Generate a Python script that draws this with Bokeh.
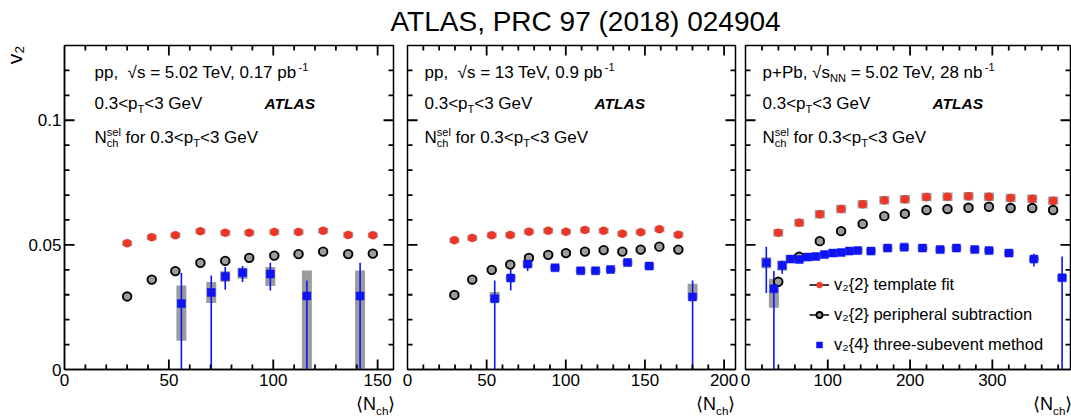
import math
from bokeh.plotting import figure
from bokeh.models import Range1d, LinearAxis, SingleIntervalTicker, Label, Legend, LegendItem, Title
from bokeh.layouts import row, column
from bokeh.embed import file_html
from bokeh.resources import INLINE

# ---------------- data ----------------
# pp, sqrt(s) = 5.02 TeV
pp5_tf_n = [30.0, 41.8, 53.1, 65.1, 77.0, 88.5, 100.5, 112.1, 123.9, 135.9, 147.7]
pp5_tf_v = [0.0507, 0.0531, 0.0539, 0.0555, 0.0549, 0.0549, 0.0552, 0.0552, 0.0557, 0.0540, 0.0539]
pp5_tf_stat = [0.0004, 0.0004, 0.0004, 0.0004, 0.0004, 0.0004, 0.0004, 0.0004, 0.0004, 0.0005, 0.0006]
pp5_tf_sys = [0.0011, 0.0011, 0.0011, 0.0011, 0.0011, 0.0011, 0.0011, 0.0011, 0.0011, 0.0011, 0.0011]
pp5_ps_n = [30.0, 41.8, 53.1, 65.1, 77.0, 88.5, 100.5, 112.1, 123.9, 135.9, 147.7]
pp5_ps_v = [0.0293, 0.0361, 0.0395, 0.0428, 0.0436, 0.0448, 0.0457, 0.0463, 0.0473, 0.0463, 0.0465]
pp5_ps_stat = [0.0003, 0.0003, 0.0003, 0.0003, 0.0003, 0.0003, 0.0003, 0.0003, 0.0003, 0.0004, 0.0004]
pp5_ps_sys = [0.0011, 0.0011, 0.0011, 0.0011, 0.0011, 0.0011, 0.0011, 0.0011, 0.0011, 0.0011, 0.0011]
pp5_3s_n = [56.0, 70.3, 77.0, 85.3, 98.6, 116.1, 141.6]
pp5_3s_v = [0.0265, 0.0309, 0.0373, 0.0388, 0.0383, 0.0295, 0.0295]
pp5_3s_stat_hi = [0.0122, 0.0068, 0.0038, 0.0027, 0.0045, 0.0062, 0.0133]
pp5_3s_stat_lo = [0.0300, 0.0350, 0.0053, 0.0037, 0.0066, 0.0350, 0.0350]
pp5_3s_sys_hi = [0.0072, 0.0042, 0.0021, 0.0020, 0.0028, 0.0102, 0.0102]
pp5_3s_sys_lo = [0.0150, 0.0042, 0.0021, 0.0024, 0.0048, 0.0300, 0.0300]

# pp, sqrt(s) = 13 TeV
pp13_tf_n = [29.6, 40.9, 53.2, 64.9, 76.7, 88.9, 100.1, 112.1, 123.9, 135.7, 147.3, 159.1, 171.1]
pp13_tf_v = [0.0519, 0.0528, 0.0539, 0.0540, 0.0553, 0.0557, 0.0553, 0.0560, 0.0557, 0.0545, 0.0551, 0.0563, 0.0541]
pp13_tf_stat = [0.0003, 0.0003, 0.0003, 0.0003, 0.0003, 0.0003, 0.0003, 0.0003, 0.0003, 0.0004, 0.0004, 0.0005, 0.0006]
pp13_tf_sys = [0.0011, 0.0011, 0.0011, 0.0011, 0.0011, 0.0011, 0.0011, 0.0011, 0.0011, 0.0011, 0.0011, 0.0011, 0.0011]
pp13_ps_n = [29.6, 40.9, 53.2, 64.9, 76.7, 88.9, 100.1, 112.1, 123.9, 135.7, 147.3, 159.1, 171.1]
pp13_ps_v = [0.0299, 0.0361, 0.0400, 0.0421, 0.0448, 0.0460, 0.0467, 0.0473, 0.0479, 0.0473, 0.0481, 0.0493, 0.0481]
pp13_ps_stat = [0.0003, 0.0003, 0.0003, 0.0003, 0.0003, 0.0003, 0.0003, 0.0003, 0.0003, 0.0003, 0.0003, 0.0004, 0.0004]
pp13_ps_sys = [0.0011, 0.0011, 0.0011, 0.0011, 0.0011, 0.0011, 0.0011, 0.0011, 0.0011, 0.0011, 0.0011, 0.0011, 0.0011]
pp13_3s_n = [55.1, 65.2, 75.9, 93.2, 109.4, 118.8, 128.3, 139.0, 152.7, 180.1]
pp13_3s_v = [0.0284, 0.0367, 0.0423, 0.0408, 0.0396, 0.0396, 0.0401, 0.0429, 0.0415, 0.0291]
pp13_3s_stat_hi = [0.0073, 0.0033, 0.0014, 0.0008, 0.0008, 0.0008, 0.0008, 0.0009, 0.0012, 0.0066]
pp13_3s_stat_lo = [0.0350, 0.0050, 0.0028, 0.0008, 0.0008, 0.0008, 0.0008, 0.0009, 0.0012, 0.0350]
pp13_3s_sys_hi = [0.0027, 0.0011, 0.0012, 0.0010, 0.0009, 0.0009, 0.0009, 0.0010, 0.0010, 0.0053]
pp13_3s_sys_lo = [0.0013, 0.0011, 0.0012, 0.0010, 0.0009, 0.0009, 0.0009, 0.0010, 0.0010, 0.0010]

# p+Pb, sqrt(sNN) = 5.02 TeV
ppb_tf_n = [39.8, 65.3, 90.3, 116.2, 142.4, 168.7, 193.7, 220.0, 245.5, 271.0, 295.9, 322.2, 348.5, 373.9]
ppb_tf_v = [0.0549, 0.0589, 0.0623, 0.0644, 0.0663, 0.0679, 0.0683, 0.0692, 0.0693, 0.0695, 0.0693, 0.0688, 0.0685, 0.0677]
ppb_tf_stat = [0.0003, 0.0003, 0.0003, 0.0003, 0.0003, 0.0003, 0.0003, 0.0003, 0.0003, 0.0003, 0.0003, 0.0004, 0.0004, 0.0005]
ppb_tf_sys = [0.0015, 0.0016, 0.0017, 0.0017, 0.0017, 0.0017, 0.0017, 0.0017, 0.0017, 0.0017, 0.0017, 0.0017, 0.0017, 0.0017]
ppb_ps_n = [39.8, 65.3, 90.3, 116.2, 142.4, 168.7, 193.7, 220.0, 245.5, 271.0, 295.9, 322.2, 348.5, 373.9]
ppb_ps_v = [0.0352, 0.0453, 0.0515, 0.0555, 0.0584, 0.0615, 0.0625, 0.0640, 0.0644, 0.0649, 0.0653, 0.0648, 0.0648, 0.0640]
ppb_ps_stat = [0.0003, 0.0003, 0.0003, 0.0003, 0.0003, 0.0003, 0.0003, 0.0003, 0.0003, 0.0003, 0.0003, 0.0003, 0.0004, 0.0004]
ppb_ps_sys = [0.0012, 0.0012, 0.0012, 0.0012, 0.0012, 0.0012, 0.0012, 0.0012, 0.0012, 0.0012, 0.0012, 0.0012, 0.0012, 0.0012]
ppb_3s_n = [25.3, 34.5, 44.6, 54.7, 65.3, 75.4, 85.4, 95.9, 106.1, 116.2, 126.3, 136.4,
            152.5, 172.7, 192.9, 215.2, 236.6, 256.4, 278.6, 296.0, 320.2, 350.5, 384.8]
ppb_3s_v = [0.0428, 0.0324, 0.0417, 0.0443, 0.0441, 0.0451, 0.0453, 0.0461, 0.0467, 0.0469, 0.0475, 0.0477,
            0.0475, 0.0487, 0.0491, 0.0487, 0.0481, 0.0487, 0.0481, 0.0477, 0.0467, 0.0443, 0.0368]
ppb_3s_stat_hi = [0.0065, 0.0071, 0.0020, 0.0008, 0.0006, 0.0005, 0.0005, 0.0005, 0.0005, 0.0005, 0.0005, 0.0005,
                  0.0005, 0.0005, 0.0005, 0.0005, 0.0005, 0.0006, 0.0006, 0.0007, 0.0008, 0.0021, 0.0085]
ppb_3s_stat_lo = [0.0121, 0.0400, 0.0033, 0.0008, 0.0006, 0.0005, 0.0005, 0.0005, 0.0005, 0.0005, 0.0005, 0.0005,
                  0.0005, 0.0005, 0.0005, 0.0005, 0.0005, 0.0006, 0.0006, 0.0007, 0.0008, 0.0030, 0.0400]
ppb_3s_sys_hi = [0.0022, 0.0040, 0.0020, 0.0015, 0.0011, 0.0010, 0.0010, 0.0010, 0.0010, 0.0010, 0.0010, 0.0010,
                 0.0010, 0.0010, 0.0010, 0.0010, 0.0010, 0.0010, 0.0010, 0.0010, 0.0010, 0.0010, 0.0013]
ppb_3s_sys_lo = [0.0022, 0.0076, 0.0020, 0.0015, 0.0011, 0.0010, 0.0010, 0.0010, 0.0010, 0.0010, 0.0010, 0.0010,
                 0.0010, 0.0010, 0.0010, 0.0010, 0.0010, 0.0010, 0.0010, 0.0010, 0.0010, 0.0010, 0.0013]

title_text = "ATLAS, PRC 97 (2018) 024904"
legend_labels = ["v\u2082{2} template fit", "v\u2082{2} peripheral subtraction", "v\u2082{4} three-subevent method"]

# ---------------- style ----------------
FONT = "Liberation Sans"
RED = "#ee3526"
BLUE = "#0f14f5"
GREY = "#9c9c9c"
YMAX = 0.13
FH = 324
YT_MAJOR, YT_MINOR = 0.05, 0.01
BASE_SHIFT = 0.32   # label anchor sits this many em above the glyph baseline

W = {' ': 278, ',': 278, '.': 278, '-': 333, '+': 584, '<': 584, '=': 584, '\u221a': 549,
     '\u27e8': 390, '\u27e9': 390, 'G': 778, 'N': 722, 'P': 667, 'T': 611, 'V': 667,
     'b': 556, 'c': 500, 'e': 556, 'f': 278, 'h': 556, 'l': 222, 'n': 556, 'o': 556,
     'p': 556, 'r': 333, 's': 500}


def tw(s, fs):
    return sum(W.get(c, 556) for c in s) * fs / 1000.0


def steps(start, stop, step):
    out, k = [], 0
    while start + k * step <= stop + 1e-12:
        out.append(start + k * step)
        k += 1
    return out


def panel(xmax, fw, bl, br, interval, show_y):
    p = figure(frame_width=fw, frame_height=FH, x_range=Range1d(0, xmax), y_range=Range1d(0, YMAX),
               x_axis_type=None, y_axis_type=None, output_backend="svg", toolbar_location=None,
               min_border_left=bl, min_border_right=br, min_border_top=5, min_border_bottom=24, title=None)
    p.outline_line_color = "black"
    p.outline_line_width = 1.5
    p.background_fill_color = "white"
    p.border_fill_color = "white"
    places = ["below"] + (["left"] if show_y else [])
    for loc in places:
        horiz = loc == "below"
        ax = LinearAxis(ticker=SingleIntervalTicker(interval=interval if horiz else YT_MAJOR, num_minor_ticks=5))
        ax.axis_line_color = "black"
        ax.axis_line_width = 1.5
        ax.major_tick_in = 0
        ax.major_tick_out = 0
        ax.minor_tick_in = 0
        ax.minor_tick_out = 0
        ax.major_label_text_font = FONT
        ax.major_label_text_font_size = "17px"
        ax.major_label_text_color = "black"
        ax.major_label_standoff = 4 if horiz else 3
        p.add_layout(ax, loc)
    return p


def tick_segments(xmax, fw, interval):
    # inward tick marks on all four sides, as line segments reaching from the frame edge inward
    dy = YMAX / FH
    dx = xmax / fw
    x0, y0, x1, y1 = [], [], [], []
    xmaj = steps(0.0, xmax, interval)
    for xv in steps(interval / 5.0, xmax - 1e-6, interval / 5.0):
        ln = 10 if any(abs(xv - m) < 1e-9 for m in xmaj) else 5
        x0 += [xv, xv]
        x1 += [xv, xv]
        y0 += [0.0, YMAX]
        y1 += [ln * dy, YMAX - ln * dy]
    ymaj = steps(0.0, YMAX, YT_MAJOR)
    for yv in steps(YT_MINOR, YMAX - 1e-6, YT_MINOR):
        ln = 10 if any(abs(yv - m) < 1e-9 for m in ymaj) else 5
        x0 += [0.0, xmax]
        x1 += [ln * dx, xmax - ln * dx]
        y0 += [yv, yv]
        y1 += [yv, yv]
    return x0, y0, x1, y1


def put(p, to_data, xpx, base_px, text, size, style="normal"):
    x, y = to_data(xpx, base_px - BASE_SHIFT * size)
    p.add_layout(Label(x=x, y=y, text=text, text_font=FONT, text_font_size="%.1fpx" % size,
                       text_font_style=style, text_color="black", text_baseline="alphabetic",
                       text_align="left"))


def rich(p, to_data, xpx, ypx, parts, fs, right=False):
    def adv(txt, kind):
        if kind == "n":
            return tw(txt, fs)
        if kind == "ss":
            return max(tw(txt[0], 0.65 * fs), tw(txt[1], 0.65 * fs))
        return tw(txt, 0.65 * fs)
    if right:
        xpx -= sum(adv(t, k) for t, k in parts)
    x = xpx
    for txt, kind in parts:
        if kind == "ss":
            put(p, to_data, x, ypx - 0.42 * fs, txt[0], 0.65 * fs)
            put(p, to_data, x, ypx + 0.25 * fs, txt[1], 0.65 * fs)
        else:
            size = fs if kind == "n" else 0.65 * fs
            dy = {"n": 0.0, "sup": -0.42 * fs, "sub": 0.25 * fs}[kind]
            lead = len(txt) - len(txt.lstrip(" "))
            xx = x + tw(" " * lead, size) - (1.5 if kind == "sup" else 0.0)
            put(p, to_data, xx, ypx + dy, txt.lstrip(" "), size)
        x += adv(txt, kind)


def draw_data(p, xmax, fw, interval, tf_n, tf_v, tf_st, tf_sys, ps_n, ps_v, ps_st, ps_sys,
              s_n, s_v, st_hi, st_lo, sy_hi, sy_lo):
    # systematic boxes
    p.rect(x=tf_n, y=tf_v, width=10, height=[2 * s for s in tf_sys], width_units="screen",
           fill_color=GREY, line_color=None)
    p.rect(x=ps_n, y=ps_v, width=10, height=[2 * s for s in ps_sys], width_units="screen",
           fill_color=GREY, line_color=None)
    p.rect(x=s_n, y=[v + (h - l) / 2 for v, h, l in zip(s_v, sy_hi, sy_lo)], width=10,
           height=[h + l for h, l in zip(sy_hi, sy_lo)], width_units="screen",
           fill_color=GREY, line_color=None)
    # statistical error bars
    e1 = p.segment(x0=tf_n, y0=[v - e for v, e in zip(tf_v, tf_st)], x1=tf_n,
                   y1=[v + e for v, e in zip(tf_v, tf_st)], line_color="black", line_width=1.5)
    e2 = p.segment(x0=ps_n, y0=[v - e for v, e in zip(ps_v, ps_st)], x1=ps_n,
                   y1=[v + e for v, e in zip(ps_v, ps_st)], line_color="black", line_width=1.5)
    # blue error bars and the frame tick marks share one segment renderer (per-item colour/width)
    tx0, ty0, tx1, ty1 = tick_segments(xmax, fw, interval)
    n_err = len(s_n)
    n_tick = len(tx0)
    e3 = p.segment(x0=list(s_n) + tx0,
                   y0=[v - l for v, l in zip(s_v, st_lo)] + ty0,
                   x1=list(s_n) + tx1,
                   y1=[v + h for v, h in zip(s_v, st_hi)] + ty1,
                   line_color=[BLUE] * n_err + ["black"] * n_tick,
                   line_width=[1.6] * n_err + [1.8] * n_tick)
    # markers
    m1 = p.scatter(x=tf_n, y=tf_v, marker="circle", size=8, fill_color=RED, line_color=RED, line_width=0.5)
    m2 = p.scatter(x=ps_n, y=ps_v, marker="circle", size=8.5, fill_color=GREY, line_color="black", line_width=1.8)
    m3 = p.scatter(x=s_n, y=s_v, marker="square", size=8, fill_color=BLUE, line_color=BLUE, line_width=0.5)
    return [(e1, m1), (e2, m2), (m3,)]


X1, FW1 = 157.6, 329
X2, FW2 = 207.2, 328
X3, FW3 = 395.0, 325

p1 = panel(X1, FW1, 63, 7, 50, True)
p2 = panel(X2, FW2, 7, 5, 50, False)
p3 = panel(X3, FW3, 5, 2, 100, False)

draw_data(p1, X1, FW1, 50, pp5_tf_n, pp5_tf_v, pp5_tf_stat, pp5_tf_sys, pp5_ps_n, pp5_ps_v, pp5_ps_stat,
          pp5_ps_sys, pp5_3s_n, pp5_3s_v, pp5_3s_stat_hi, pp5_3s_stat_lo, pp5_3s_sys_hi, pp5_3s_sys_lo)
draw_data(p2, X2, FW2, 50, pp13_tf_n, pp13_tf_v, pp13_tf_stat, pp13_tf_sys, pp13_ps_n, pp13_ps_v, pp13_ps_stat,
          pp13_ps_sys, pp13_3s_n, pp13_3s_v, pp13_3s_stat_hi, pp13_3s_stat_lo, pp13_3s_sys_hi, pp13_3s_sys_lo)
rs3 = draw_data(p3, X3, FW3, 100, ppb_tf_n, ppb_tf_v, ppb_tf_stat, ppb_tf_sys, ppb_ps_n, ppb_ps_v, ppb_ps_stat,
                ppb_ps_sys, ppb_3s_n, ppb_3s_v, ppb_3s_stat_hi, ppb_3s_stat_lo, ppb_3s_sys_hi, ppb_3s_sys_lo)

# legend line for the blue entry: an empty-data blue segment renderer (glyph only used by the legend)
leg_blue = p3.segment(x0=[], y0=[], x1=[], y1=[], line_color=BLUE, line_width=1.6)

FS = 17
line1 = [
    [("pp,  ", "n"), ("\u221a", "n"), ("s = 5.02 TeV, 0.17 pb", "n"), ("-1", "sup")],
    [("pp,  ", "n"), ("\u221a", "n"), ("s = 13 TeV, 0.9 pb", "n"), ("-1", "sup")],
    [("p+Pb, ", "n"), ("\u221a", "n"), ("s", "n"), ("NN", "sub"), (" = 5.02 TeV, 28 nb", "n"), ("-1", "sup")],
]
line2 = [("0.3<p", "n"), ("T", "sub"), ("<3 GeV", "n")]
line3 = [("N", "n"), (("sel", "ch"), "ss"), (" for 0.3<p", "n"), ("T", "sub"), ("<3 GeV", "n")]
nch = [("\u27e8N", "n"), ("ch", "sub"), ("\u27e9", "n")]

for p, xm, fw, x0, l1 in ((p1, X1, FW1, 30, line1[0]), (p2, X2, FW2, 17, line1[1]), (p3, X3, FW3, 17, line1[2])):
    td = (lambda xm_, fw_: (lambda xp, yp: (xm_ * xp / fw_, YMAX * (1 - yp / FH))))(xm, fw)
    rich(p, td, x0, 32, l1, FS)
    rich(p, td, x0, 63, line2, FS)
    put(p, td, x0 + 170, 63, "ATLAS", 15.5, style="bold italic")
    rich(p, td, x0, 97, line3, FS)

# y-axis title (as a left-side title at the top end of the axis)
p1.add_layout(Title(text="v\u2082", align="right", text_font=FONT, text_font_size="21px",
                    text_font_style="normal", text_color="black", standoff=0, offset=0), "left")

# legend
items = [LegendItem(label=legend_labels[0], renderers=list(rs3[0])),
         LegendItem(label=legend_labels[1], renderers=list(rs3[1])),
         LegendItem(label=legend_labels[2], renderers=[leg_blue, rs3[2][0]])]
legend = Legend(items=items, location=(64, 15), label_text_font=FONT, label_text_font_size="16.5px",
                label_text_color="black", label_standoff=5, glyph_width=20, glyph_height=15,
                label_height=20, spacing=10, padding=0, margin=0, border_line_alpha=0,
                background_fill_alpha=0)
p3.add_layout(legend)

# page title strip
tf = figure(width=1071, height=40, x_range=Range1d(0, 1071), y_range=Range1d(0, 40),
            x_axis_type=None, y_axis_type=None, output_backend="svg", toolbar_location=None,
            min_border=0, outline_line_color=None, title=None)
put(tf, lambda xp, yp: (xp, 40 - yp), 390, 30, title_text, 28)

# bottom strip with the x-axis titles
bf = figure(width=1071, height=24, x_range=Range1d(0, 1071), y_range=Range1d(0, 24),
            x_axis_type=None, y_axis_type=None, output_backend="svg", toolbar_location=None,
            min_border=0, outline_line_color=None, title=None)
page = lambda xp, yp: (xp, 417 - yp)
for right_edge in (395, 735, 1072):
    rich(bf, page, right_edge, 409, nch, 18, right=True)

lay = column(tf, row(p1, p2, p3, spacing=0), bf, spacing=0)
open("out.html", "w").write(file_html(lay, INLINE))
